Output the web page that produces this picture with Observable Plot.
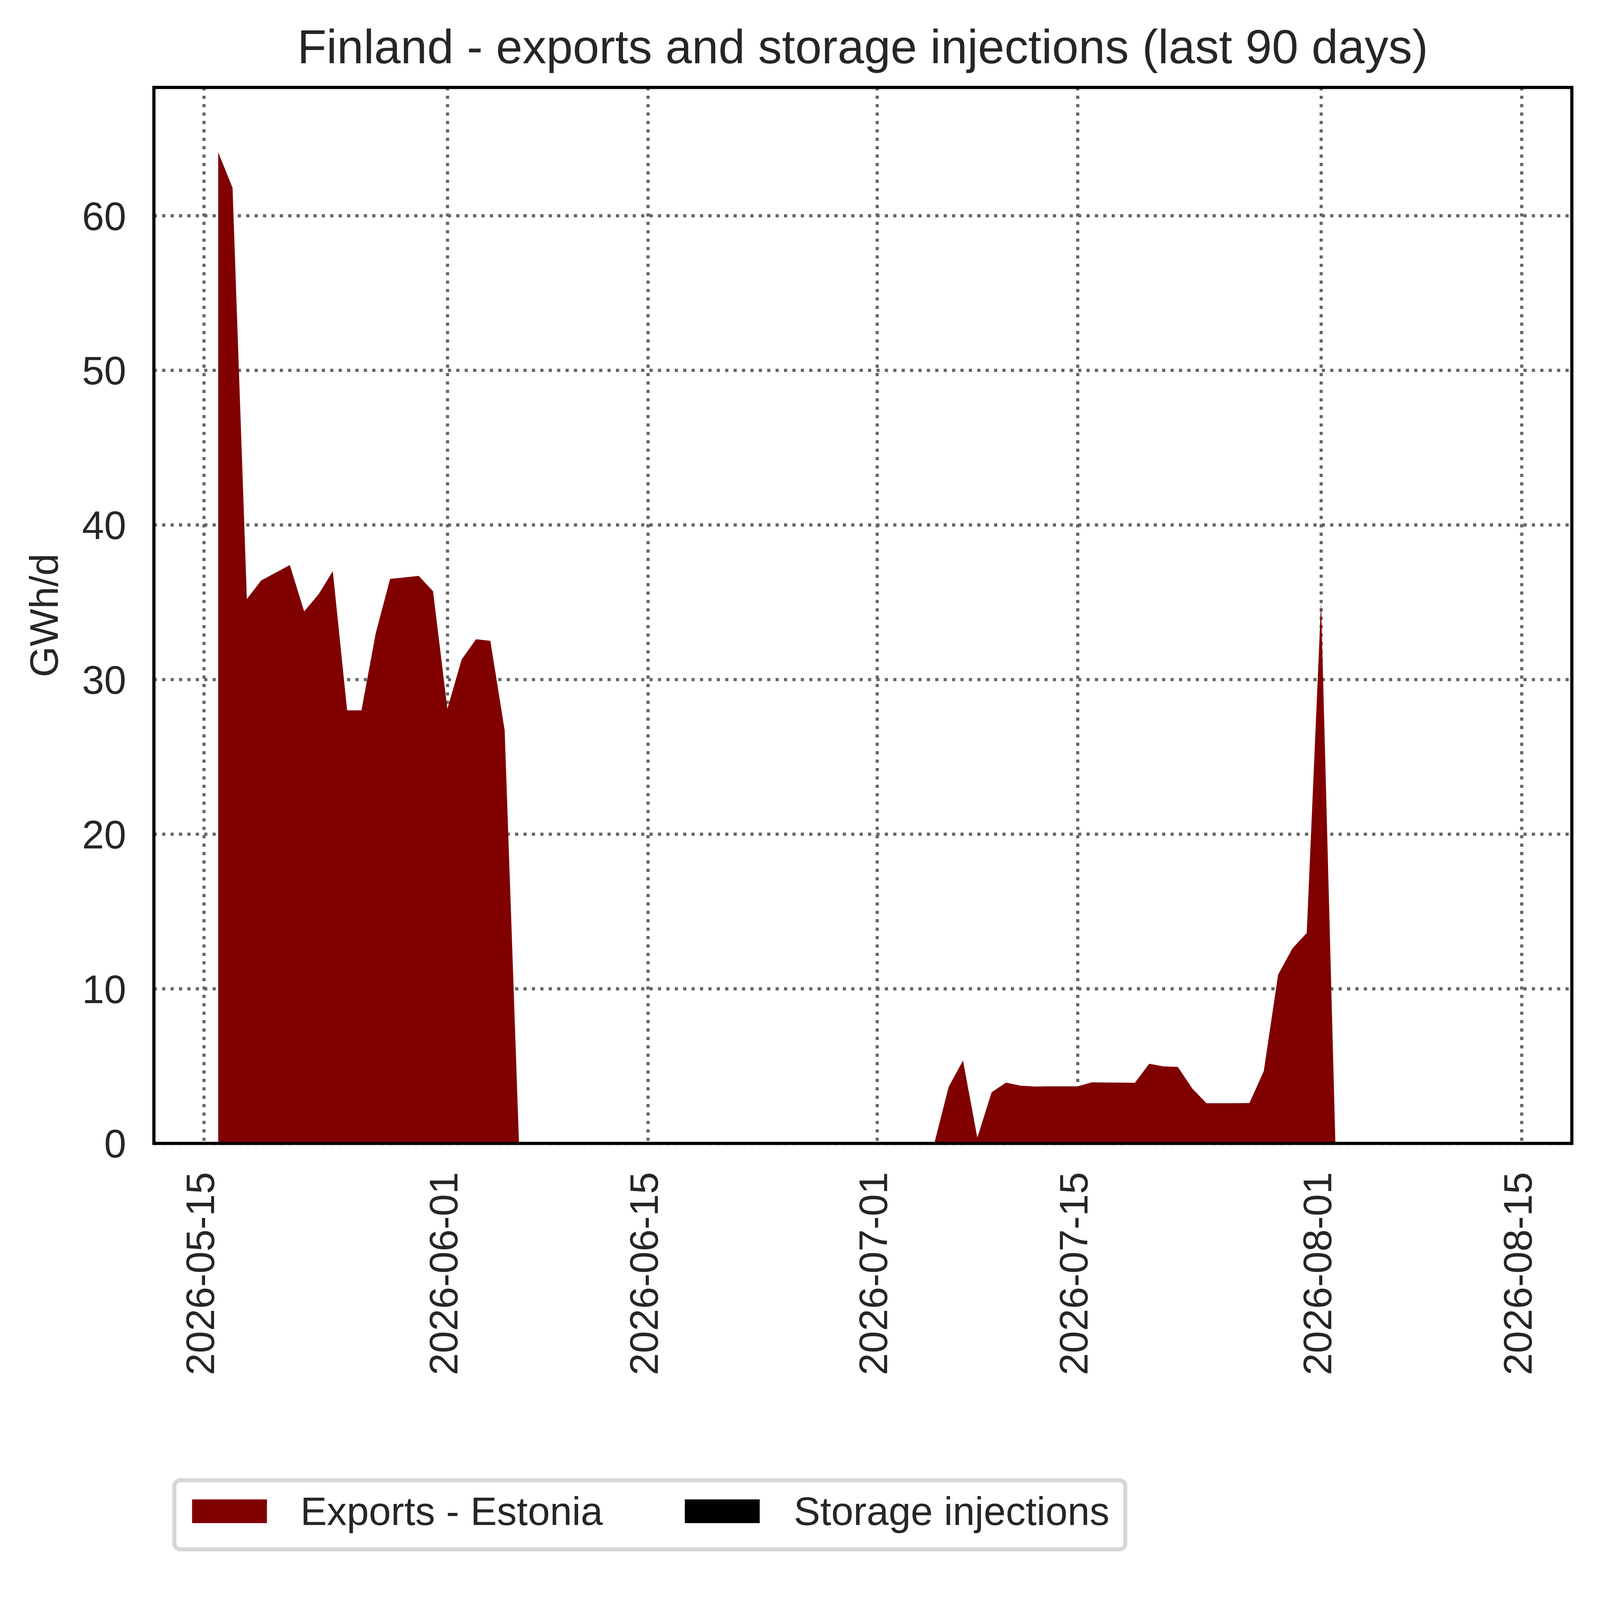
<!DOCTYPE html>
<html>
<head>
<meta charset="utf-8">
<script src="https://cdn.jsdelivr.net/npm/d3@7"></script>
<script src="https://cdn.jsdelivr.net/npm/@observablehq/plot@0.6"></script>
<style>
html, body { margin: 0; padding: 0; background: #ffffff; overflow: hidden; }
#page { position: relative; width: 5598px; height: 5521px; transform-origin: 0 0; font-family: "Liberation Sans", Arial, Helvetica, sans-serif; color: #262626; background: #ffffff; }
#title { box-sizing: border-box; height: 260px; padding-top: 79.6px; margin-left: 538px; width: 4961px; text-align: center; font-size: 166.7px; line-height: 166.7px; white-space: nowrap; }
#chart svg { display: block; }
#legend { position: relative; box-sizing: border-box; margin-left: 603px; margin-top: 272px; width: 3341px; height: 256px; border: 14px solid #d6d6d6; border-radius: 28px; background: #fff; }
#legend .sw { position: absolute; top: 60px; width: 262px; height: 83px; }
#legend .lt { position: absolute; top: 32px; font-size: 139px; line-height: 139px; white-space: nowrap; }
</style>
</head>
<body>
<div id="page">
<div id="title"></div>
<div id="chart"></div>
<div id="legend"></div>
</div>
<script>
// ---- data ----
const titleText = "Finland - exports and storage injections (last 90 days)";
const yLabel = "GWh/d";
const seriesNames = ["Exports - Estonia", "Storage injections"];
const seriesColors = ["#800000", "#000000"];
const firstDay = "2026-05-16";   // daily values, 91 days
const lastDay = "2026-08-14";
const exportsEstonia = [
  64.1, 61.8, 35.2, 36.4, 36.9, 37.4, 34.4, 35.5, 37.0, 28.0,
  28.0, 33.0, 36.5, 36.6, 36.7, 35.7, 28.1, 31.3, 32.6, 32.5,
  26.7, 0, 0, 0, 0, 0, 0, 0, 0, 0,
  0, 0, 0, 0, 0, 0, 0, 0, 0, 0,
  0, 0, 0, 0, 0, 0, 0, 0, 0, 0,
  0, 3.65, 5.35, 0.36, 3.3, 3.92, 3.73, 3.67, 3.68, 3.68,
  3.68, 3.94, 3.93, 3.92, 3.91, 5.14, 4.97, 4.94, 3.55, 2.59,
  2.59, 2.59, 2.6, 4.66, 10.9, 12.6, 13.6, 35.0, 0, 0,
  0, 0, 0, 0, 0, 0, 0, 0, 0, 0,
  0
];
const storageInjections = [
  0, 0, 0, 0, 0, 0, 0, 0, 0, 0,
  0, 0, 0, 0, 0, 0, 0, 0, 0, 0,
  0, 0, 0, 0, 0, 0, 0, 0, 0, 0,
  0, 0, 0, 0, 0, 0, 0, 0, 0, 0,
  0, 0, 0, 0, 0, 0, 0, 0, 0, 0,
  0, 0, 0, 0, 0, 0, 0, 0, 0, 0,
  0, 0, 0, 0, 0, 0, 0, 0, 0, 0,
  0, 0, 0, 0, 0, 0, 0, 0, 0, 0,
  0, 0, 0, 0, 0, 0, 0, 0, 0, 0,
  0
];
const xTickLabels = ["2026-05-15", "2026-06-01", "2026-06-15", "2026-07-01", "2026-07-15", "2026-08-01", "2026-08-15"];
const yTickValues = [0, 10, 20, 30, 40, 50, 60];
const yMax = 68.3;

// ---- fit the 5598-px design into the actual viewport ----
const pageScale = window.innerWidth / 5598;
document.getElementById("page").style.transform = `scale(${pageScale})`;

// ---- build table ----
const parse = d3.utcParse("%Y-%m-%d");
const start = parse(firstDay), end = parse(lastDay);
const dates = d3.utcDay.range(start, d3.utcDay.offset(end, 1));
const seriesValues = [exportsEstonia, storageInjections];
const rows = [];
seriesNames.forEach((name, k) => {
  dates.forEach((d, i) => rows.push({date: d, value: seriesValues[k][i], series: name}));
});
const xTicks = xTickLabels.map(parse);
// matplotlib-style 5% margins on the date range
const span = end - start;
const xDomain = [new Date(+start - 0.05 * span), new Date(+end + 0.05 * span)];

const font = '"Liberation Sans", Arial, Helvetica, sans-serif';
const textColor = "#262626";
const gridStyle = {stroke: "#666666", strokeOpacity: 1, strokeWidth: 11.1, strokeDasharray: "11.1 18.3"};

const chart = Plot.plot({
  width: 5598,
  height: 4640,
  marginTop: 45.4,
  marginBottom: 900,
  marginLeft: 538,
  marginRight: 99,
  style: {fontFamily: font, background: "#ffffff", color: textColor},
  x: {type: "utc", domain: xDomain},
  y: {domain: [0, yMax]},
  color: {domain: seriesNames, range: seriesColors},
  marks: [
    Plot.gridX(xTicks, gridStyle),
    Plot.gridY(yTickValues, gridStyle),
    // the all-zero storage layer is stacked underneath so it leaves no seam on the exports area
    Plot.areaY(rows, {x: "date", y: "value", z: "series", fill: "series", curve: "linear",
      order: [seriesNames[1], seriesNames[0]]}),
    Plot.frame({stroke: "#000000", strokeWidth: 11.1}),
    Plot.axisX(xTicks, {
      tickFormat: d3.utcFormat("%Y-%m-%d"), tickRotate: -90, tickSize: 0, tickPadding: 100,
      textAnchor: "end", fontSize: 139, fill: textColor, dx: -10, label: null
    }),
    Plot.axisY(yTickValues, {tickFormat: d3.format("d"), tickSize: 0, tickPadding: 97, fontSize: 139, fill: textColor, dy: 5, label: null}),
    Plot.text([yLabel], {text: d => d, frameAnchor: "left", textAnchor: "middle", rotate: -90, dx: -336, lineAnchor: "bottom", fontSize: 139, fill: textColor})
  ]
});
document.getElementById("chart").appendChild(chart);
document.getElementById("title").textContent = titleText;

// ---- legend ----
const legend = d3.select("#legend");
const swatchLeft = [55, 1779];
const labelLeft = [434, 2160];
seriesNames.forEach((name, k) => {
  legend.append("div").attr("class", "sw").style("left", swatchLeft[k] + "px").style("background", seriesColors[k]);
  legend.append("div").attr("class", "lt").style("left", labelLeft[k] + "px").text(name);
});
</script>
</body>
</html>
